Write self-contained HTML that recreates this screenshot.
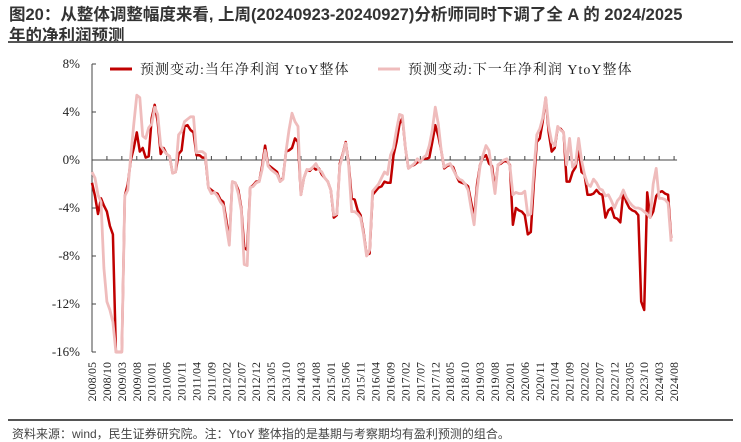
<!DOCTYPE html>
<html><head><meta charset="utf-8">
<style>
body{margin:0;background:#fff;width:741px;height:439px;overflow:hidden;font-family:"Liberation Sans","Noto Sans CJK SC",sans-serif;}
.title{position:absolute;left:9px;top:5px;font-size:16.5px;font-weight:bold;color:#333;line-height:21px;width:730px;}
.rule{position:absolute;left:8px;width:725px;height:2px;background:#555;}
.src{position:absolute;left:12px;top:425px;font-size:12px;color:#444;}
svg{position:absolute;left:0;top:0;}
text{font-family:"Liberation Serif","Noto Serif CJK SC",serif;fill:#222;}
</style></head><body>
<div class="title">图20：从整体调整幅度来看, 上周(20240923-20240927)分析师同时下调了全 A 的 2024/2025<br>年的净利润预测</div>
<div class="rule" style="top:41px"></div>
<div class="rule" style="top:419px"></div>
<div class="src">资料来源：wind，民生证券研究院。注：YtoY 整体指的是基期与考察期均有盈利预测的组合。</div>
<svg id="chart" width="741" height="439"></svg>
<script>
const yTicks=[8,4,0,-4,-8,-12,-16];
const xLabels=["2008/05","2008/10","2009/03","2009/08","2010/01","2010/06","2010/11","2011/04","2011/09","2012/02","2012/07","2012/12","2013/05","2013/10","2014/03","2014/08","2015/01","2015/06","2015/11","2016/04","2016/09","2017/02","2017/07","2017/12","2018/05","2018/10","2019/03","2019/08","2020/01","2020/06","2020/11","2021/04","2021/09","2022/02","2022/07","2022/12","2023/05","2023/10","2024/03","2024/08"];
const seriesNames=["预测变动:当年净利润 YtoY整体","预测变动:下一年净利润 YtoY整体"];
const curYear=[-1.9,-3.0,-4.5,-3.2,-3.8,-4.3,-5.5,-6.2,-16,-16,-16,-3.0,-2.0,0.0,1.0,2.3,0.7,1.0,0.2,0.3,3.5,4.6,3.2,0.5,1.0,0.5,0.3,-1.1,-1.0,0.5,0.8,2.8,2.9,2.5,2.3,0.4,0.4,0.2,0.2,-2.3,-2.5,-2.7,-2.8,-3.3,-3.5,-5.0,-6.8,-1.8,-1.9,-2.5,-4.0,-7.3,-7.5,-2.3,-2.1,-1.8,-1.8,-0.5,1.2,-0.4,-0.6,-0.8,-1.0,-1.8,-1.5,0.7,0.8,1.0,1.8,1.5,-2.9,-1.5,-0.8,-0.9,-0.6,-0.8,-0.7,-1.2,-1.5,-1.8,-2.5,-4.8,-4.6,-0.3,0.5,1.5,-0.3,-3.2,-3.3,-4.2,-4.6,-6.0,-7.9,-7.8,-2.9,-2.6,-2.3,-2.2,-1.8,-1.9,-1.9,0.4,1.5,3.0,3.5,1.0,-0.7,-0.5,-0.4,-0.2,-0.1,0.1,0.1,0.2,1.5,2.9,2.0,0.8,-0.7,-0.5,-0.4,-0.6,-1.3,-1.8,-1.9,-2.0,-2.2,-3.5,-4.8,-2.0,-0.4,0.2,0.4,-0.3,-0.5,-2.5,-0.4,-0.3,-0.1,-0.1,-0.4,-5.4,-4.0,-4.2,-4.3,-4.6,-6.2,-6.0,-2.0,1.5,1.8,3.2,5.2,2.3,0.7,1.0,2.7,2.6,2.3,-1.8,-1.8,-1.0,-0.6,1.0,-1.0,-1.2,-2.9,-2.9,-2.8,-2.5,-2.8,-2.9,-4.8,-4.2,-4.0,-4.8,-4.9,-5.2,-2.7,-3.5,-4.0,-4.2,-4.3,-4.6,-11.8,-12.5,-2.7,-4.8,-4.3,-3.0,-2.7,-2.6,-2.8,-2.9,-6.5];
const nextYear=[-1.0,-1.5,-2.9,-3.5,-9.0,-11.8,-12.5,-13.5,-16,-16,-16,-3.0,-2.5,0.4,3.0,5.4,5.2,2.0,1.8,2.7,3.0,4.4,3.8,1.2,0.8,0.5,0.3,-1.1,-1.0,2.1,2.4,3.2,3.4,3.6,3.6,0.6,0.7,0.7,0.5,-2.3,-2.8,-2.7,-3.0,-3.5,-3.8,-5.5,-7.1,-1.8,-1.9,-2.8,-4.2,-8.7,-8.8,-2.3,-2.2,-1.9,-1.8,-0.8,0.8,-0.5,-0.8,-1.0,-1.2,-1.8,-1.6,0.7,2.5,3.9,3.2,2.8,-2.9,-1.5,-0.8,-0.8,-0.6,-0.3,-0.8,-1.0,-1.5,-1.8,-2.5,-4.6,-4.5,-0.5,0.4,1.4,-0.5,-4.3,-4.3,-4.5,-4.8,-6.2,-8.0,-7.5,-2.6,-2.3,-2.0,-1.5,-1.0,-1.2,0.4,1.0,2.5,3.8,3.7,1.0,-0.7,-0.5,-0.3,0.1,-0.2,0.2,0.4,1.2,2.5,4.4,3.0,0.8,-0.6,-0.4,-0.3,-0.8,-1.3,-1.6,-1.7,-2.0,-2.5,-4.0,-5.4,-2.5,-0.5,0.4,1.2,0.8,-1.0,-2.8,-0.4,-0.2,0.0,0.1,-0.5,-2.9,-2.7,-2.8,-2.8,-2.6,-4.6,-4.5,-1.0,2.1,2.6,3.5,5.2,2.8,1.5,1.2,2.8,2.5,2.3,-0.4,1.8,-0.6,-0.3,1.8,0.0,-1.2,-2.0,-2.2,-1.6,-1.9,-2.4,-2.5,-3.0,-2.9,-3.4,-4.0,-3.4,-3.1,-2.5,-3.1,-3.5,-3.8,-4.0,-4.0,-4.1,-4.3,-4.5,-4.8,-2.0,-0.7,-3.2,-3.2,-3.3,-3.6,-6.8];

const NS="http://www.w3.org/2000/svg";
const svg=document.getElementById('chart');
const X0=92, MPX=2.985, Y0=160, YPX=12;
const xm=m=>X0+m*MPX;
const yv=v=>Y0-v*YPX;
function mk(tag,attrs,parent){const e=document.createElementNS(NS,tag);for(const k in attrs)e.setAttribute(k,attrs[k]);(parent||svg).appendChild(e);return e;}

let ax=mk('line',{x1:X0,x2:X0,y1:yv(8),y2:yv(-16),stroke:'#444','stroke-width':1});


yTicks.forEach(v=>{
  let t=mk('line',{x1:X0,x2:X0+4,y1:yv(v),y2:yv(v),stroke:'#444','stroke-width':1});
  
  
  let l=mk('text',{x:X0-12,y:yv(v)+4,'text-anchor':'end','font-size':13});
  l.textContent=v+'%';
  
  
});
let xa=mk('line',{x1:X0,x2:xm(196),y1:yv(0),y2:yv(0),stroke:'#444','stroke-width':1});


xLabels.forEach((s,i)=>{
  const x=xm(i*5);
  let t=mk('line',{x1:x,x2:x,y1:yv(0),y2:yv(0)-4,stroke:'#444','stroke-width':1});
  
  
  let l=mk('text',{x:0,y:0,'text-anchor':'end','font-size':12,transform:`translate(${x+4},362) rotate(-90)`});
  l.textContent=s;
  
  
});
function line(data,color,w,name){
  const d=data.map((v,i)=>(i?'L':'M')+xm(i).toFixed(1)+','+yv(Math.max(v,-16.3)).toFixed(1)).join('');
  let p=mk('path',{d:d,fill:'none',stroke:color,'stroke-width':w,'stroke-linejoin':'round'});
  
  
}
line(curYear,'#c00000',2.5,'series-current-year');
line(nextYear,'#efbcbc',2.8,'series-next-year');
const leg=[[110,142,'#c00000'],[378,410,'#efbcbc']];
leg.forEach((g,i)=>{
  let ln=mk('line',{x1:g[0],x2:g[0]+22,y1:69,y2:69,stroke:g[2],'stroke-width':3});
  
  
  let t=mk('text',{x:g[1]-2,y:74,'font-size':14,'letter-spacing':1});
  t.textContent=seriesNames[i];
  
  
});
</script>
</body></html>
